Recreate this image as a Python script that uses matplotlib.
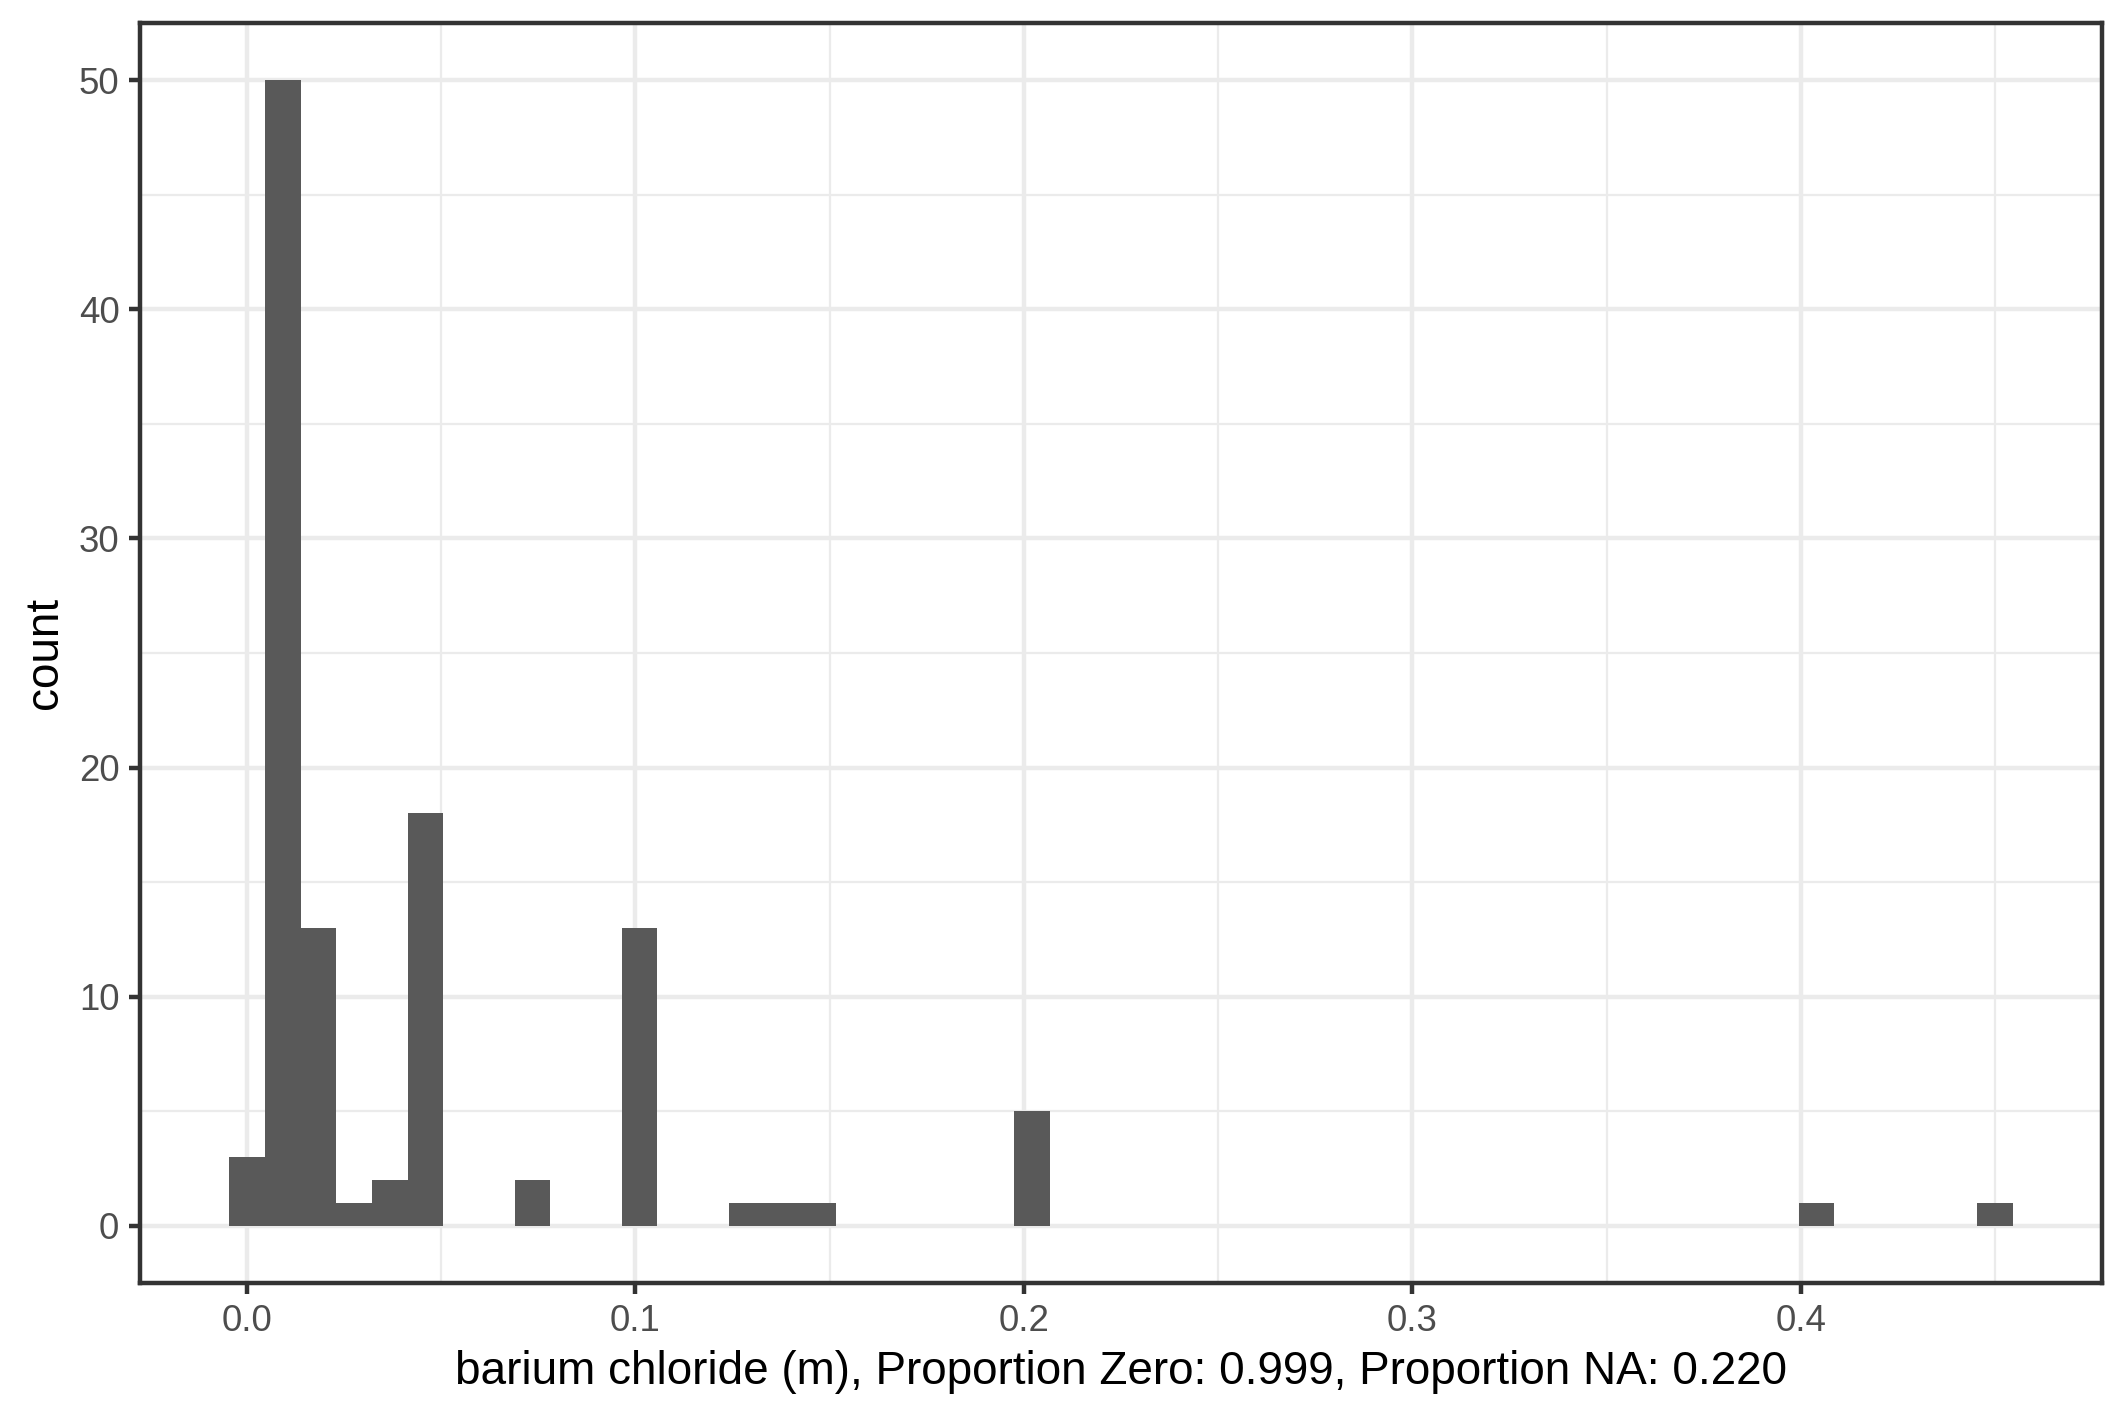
import matplotlib
matplotlib.use("Agg")
import matplotlib.pyplot as plt
from matplotlib.ticker import FixedLocator

plt.rcParams['font.family'] = ['Liberation Sans', 'DejaVu Sans']

# Histogram data (bin centers, counts)
bin_width = 0.45 / 49
bin_centers = [0.0, 0.00918, 0.01837, 0.02755, 0.03673, 0.04592,
               0.07347, 0.10102, 0.12857, 0.13776, 0.14694,
               0.20204, 0.40408, 0.45]
counts = [3, 50, 13, 1, 2, 18, 2, 13, 1, 1, 1, 5, 1, 1]

x_ticks = [0.0, 0.1, 0.2, 0.3, 0.4]
x_tick_labels = ["0.0", "0.1", "0.2", "0.3", "0.4"]
y_ticks = [0, 10, 20, 30, 40, 50]
x_minor = [0.05, 0.15, 0.25, 0.35, 0.45]
y_minor = [5, 15, 25, 35, 45]
xlabel = "barium chloride (m), Proportion Zero: 0.999, Proportion NA: 0.220"
ylabel = "count"

W, H = 2125, 1417
fig = plt.figure(figsize=(W / 300, H / 300), dpi=300)
L, R, T, B = 140, 2102, 23, 1283
ax = fig.add_axes([L / W, (H - B) / H, (R - L) / W, (B - T) / H])

lw = 1.07
ax.bar(bin_centers, counts, width=bin_width, color="#595959", linewidth=0, zorder=3)

xmin = bin_centers[0] - bin_width / 2
xmax = bin_centers[-1] + bin_width / 2
xr = xmax - xmin
ax.set_xlim(xmin - 0.05 * xr, xmax + 0.05 * xr)
ax.set_ylim(-2.5, 52.5)

ax.xaxis.set_major_locator(FixedLocator(x_ticks))
ax.set_xticklabels(x_tick_labels)
ax.yaxis.set_major_locator(FixedLocator(y_ticks))
ax.xaxis.set_minor_locator(FixedLocator(x_minor))
ax.yaxis.set_minor_locator(FixedLocator(y_minor))

ax.grid(which="major", color="#EBEBEB", linewidth=lw, zorder=0)
ax.grid(which="minor", color="#EBEBEB", linewidth=lw / 2, zorder=0)
ax.set_axisbelow(True)

for s in ax.spines.values():
    s.set_color("#333333")
    s.set_linewidth(lw)
    s.set_zorder(5)

ax.tick_params(which="major", length=2.75, width=lw, color="#333333",
               labelsize=8.8, labelcolor="#4D4D4D", pad=2.2)
ax.tick_params(which="minor", length=0)

ax.set_xlabel(xlabel, fontsize=11, color="black", labelpad=2.75)
ax.set_ylabel(ylabel, fontsize=11, color="black", labelpad=2.75)

fig.savefig("out.png", dpi=300, facecolor="white")
